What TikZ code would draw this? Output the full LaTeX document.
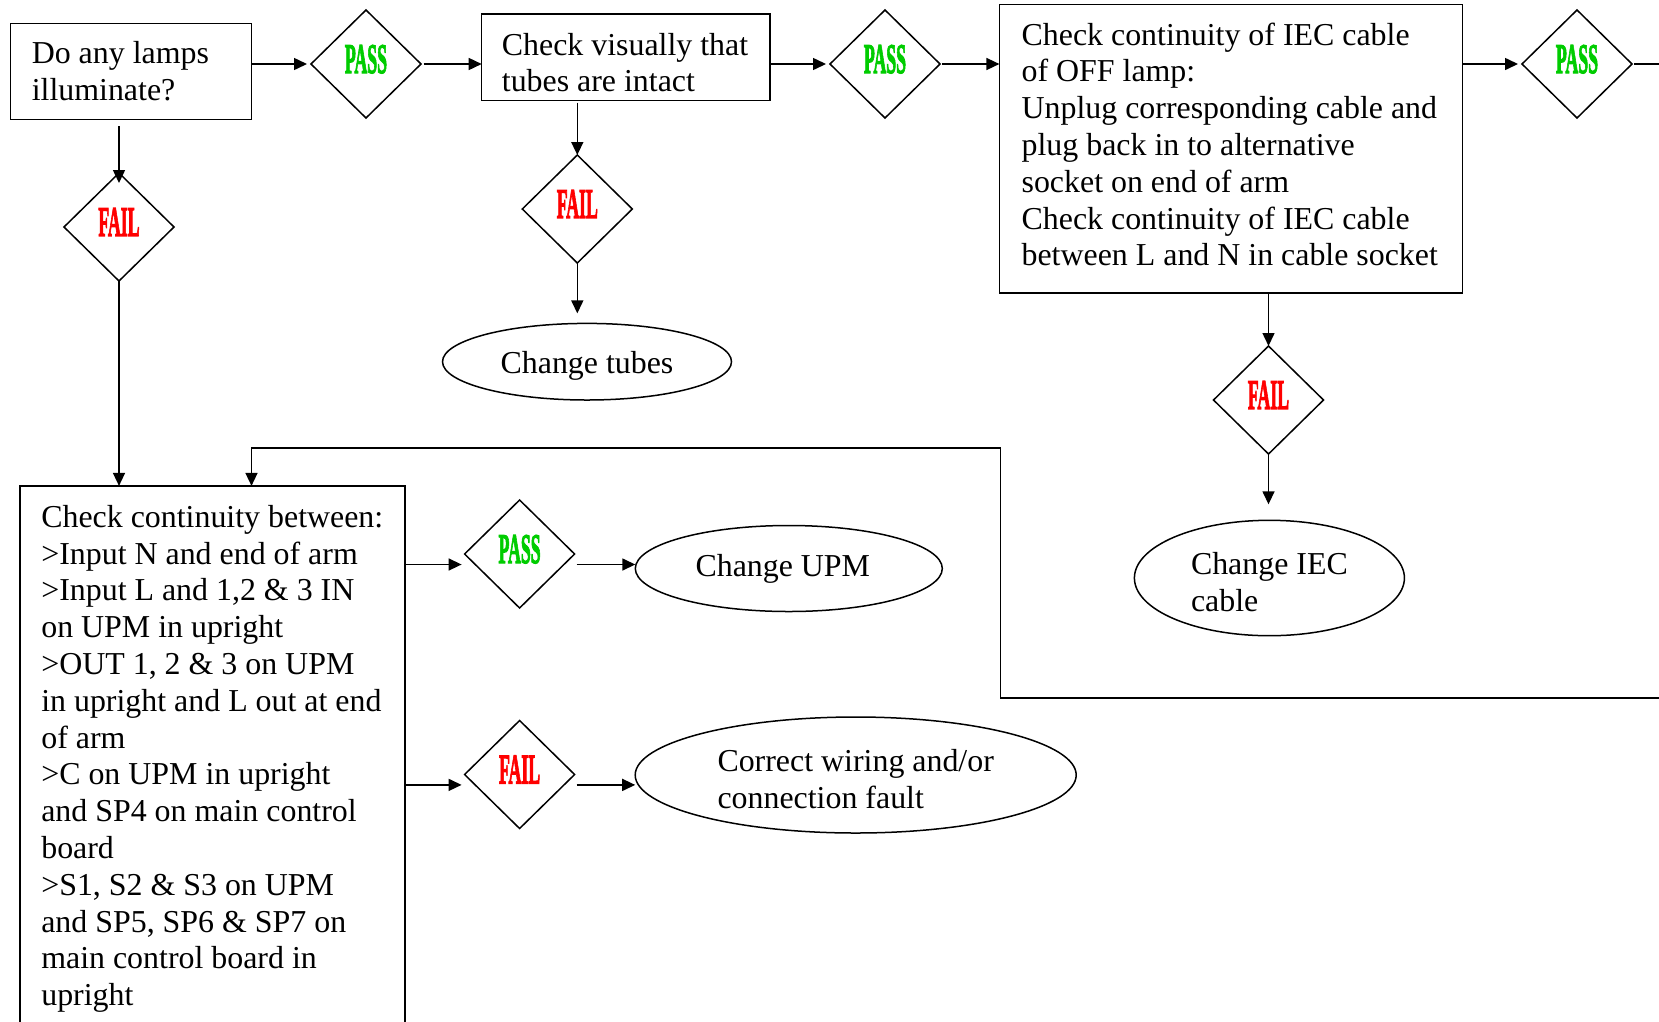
\documentclass[tikz,border=0pt]{standalone}
\usepackage{fontspec}
\setmainfont{Liberation Serif}
\newfontfamily\pffont{Liberation Serif}[BoldFeatures={FakeBold=3}]
\usepackage{graphicx}
\usetikzlibrary{shapes.geometric,arrows.meta}
\definecolor{passg}{RGB}{0,204,0}
\definecolor{failr}{RGB}{255,0,0}
\newcommand{\bxt}[3]{\makebox[#1pt][l]{\hspace*{#2pt}\begin{tabular}[t]{@{}l@{}}#3\end{tabular}}}
\newcommand{\pflabel}[2]{\textcolor{#1}{\scalebox{0.42}[1]{\fontsize{42.3}{42}\pffont\bfseries #2}}}
\begin{document}
\begin{tikzpicture}[x=1pt,y=-1pt,
 every node/.style={font=\fontsize{31.9}{36.8}\selectfont},
 bx/.style={draw, line width=1.5pt, rectangle, inner sep=0pt, outer sep=0pt},
 dia/.style={draw, diamond, line width=1.5pt, minimum width=110pt, minimum height=108pt, inner sep=0pt, outer sep=0pt, text depth=10pt},
 ell/.style={draw, ellipse, line width=1.5pt, inner sep=0pt, outer sep=0pt, align=left},
 arr/.style={-{Triangle[length=13pt,width=12pt]}, line width=1.5pt},
 ln/.style={line width=1.5pt}]
\useasboundingbox (0,0) rectangle (1659,1021);
\clip (0,0) rectangle (1659,1021);

% boxes
\node[bx, text height=40pt, text depth=56.2pt] (B1) at (131.05,71.4)
  {\bxt{240.9}{21.2}{Do any lamps\\illuminate?}};
\node[bx, text height=41pt, text depth=45.7pt] (B2) at (625.85,57.35)
  {\bxt{288.3}{20.2}{Check visually that\\tubes are intact}};
\node[bx, text height=40.5pt, text depth=248pt] (B3) at (1231,148.75)
  {\bxt{463.2}{22.2}{Check continuity of IEC cable\\of OFF lamp:\\Unplug corresponding cable and\\plug back in to alternative\\socket on end of arm\\Check continuity of IEC cable\\between L and N in cable socket}};
\node[bx, text height=41.4pt, text depth=507.6pt] (B4) at (212.5,760.4)
  {\bxt{385}{21.3}{Check continuity between:\\>Input N and end of arm\\>Input L and 1,2 \& 3 IN\\on UPM in upright\\>OUT 1, 2 \& 3 on UPM\\in upright and L out at end\\of arm\\>C on UPM in upright\\and SP4 on main control\\board\\>S1, S2 \& S3 on UPM\\and SP5, SP6 \& SP7 on\\main control board in\\upright}};

% diamonds
\node[dia] (P1) at (366,64) {\pflabel{passg}{PASS}};
\node[dia] (P2) at (885,64) {\pflabel{passg}{PASS}};
\node[dia] (P3) at (1577,64) {\pflabel{passg}{PASS}};
\node[dia] (F1) at (119,227) {\pflabel{failr}{FAIL}};
\node[dia] (F2) at (577.3,209) {\pflabel{failr}{FAIL}};
\node[dia] (F3) at (1268.5,400) {\pflabel{failr}{FAIL}};
\node[dia] (P4) at (519.6,554) {\pflabel{passg}{PASS}};
\node[dia] (F4) at (519.6,774.5) {\pflabel{failr}{FAIL}};

% ellipses
\node[ell, minimum width=289pt, minimum height=76.6pt] (E1) at (587,361.7) {\rule{0pt}{31pt}Change tubes};
\node[ell, minimum width=307pt, minimum height=86pt] (E2) at (788.8,568.5) {Change UPM\hspace*{12pt}};
\node[ell, minimum width=441pt, minimum height=116pt] (E3) at (855.7,775) {\rule{0pt}{30pt}Correct wiring and/or\\connection fault};
\node[ell, minimum width=270pt, minimum height=115.4pt] (E4) at (1269.4,578) {\rule{0pt}{31pt}Change IEC\\cable};

% helper coordinates
\coordinate (R) at (1670,64);
\coordinate (L1) at (1670,697.9);
\coordinate (L2) at (1000.5,697.9);
\coordinate (L3) at (1000.5,448);
\coordinate (L4) at (251.5,448);
\coordinate (rowP) at (0,564.5);
\coordinate (rowF) at (0,784.9);

% top row
\draw[arr] (B1.east |- P1) -- ([xshift=-4pt]P1.west);
\draw[arr] ([xshift=2.5pt]P1.east) -- (B2.west |- P1);
\draw[arr] (B2.east |- P2) -- ([xshift=-4pt]P2.west);
\draw[arr] ([xshift=2pt]P2.east) -- (B3.west |- P2);
\draw[arr] (B3.east |- P3) -- ([xshift=-4pt]P3.west);
\draw[ln] ([xshift=2pt]P3.east) -- (R);

% verticals
\draw[arr] ([yshift=-6.5pt]B1.south -| F1) -- ([yshift=-10pt]F1.north);
\draw[arr] (F1.south) -- (F1.south |- B4.north);
\draw[arr] ([yshift=-2pt]B2.south -| F2) -- (F2.north);
\draw[arr] (F2.south) -- ([yshift=10pt]F2.south |- E1.north);
\draw[arr] (B3.south -| F3) -- (F3.north);
\draw[arr] (F3.south) -- ([yshift=16pt]F3.south |- E4.north);

% loop back
\draw[arr] (L1) -- (L2) -- (L3) -- (L4) -- (L4 |- B4.north);

% bottom left
\draw[arr] (B4.east |- rowP) -- ([xshift=-3pt]P4.west |- rowP);
\draw[arr] ([xshift=2pt]P4.east |- rowP) -- (E2.west |- rowP);
\draw[arr] (B4.east |- rowF) -- ([xshift=-3pt]F4.west |- rowF);
\draw[arr] ([xshift=2pt]F4.east |- rowF) -- (E3.west |- rowF);
\end{tikzpicture}
\end{document}
